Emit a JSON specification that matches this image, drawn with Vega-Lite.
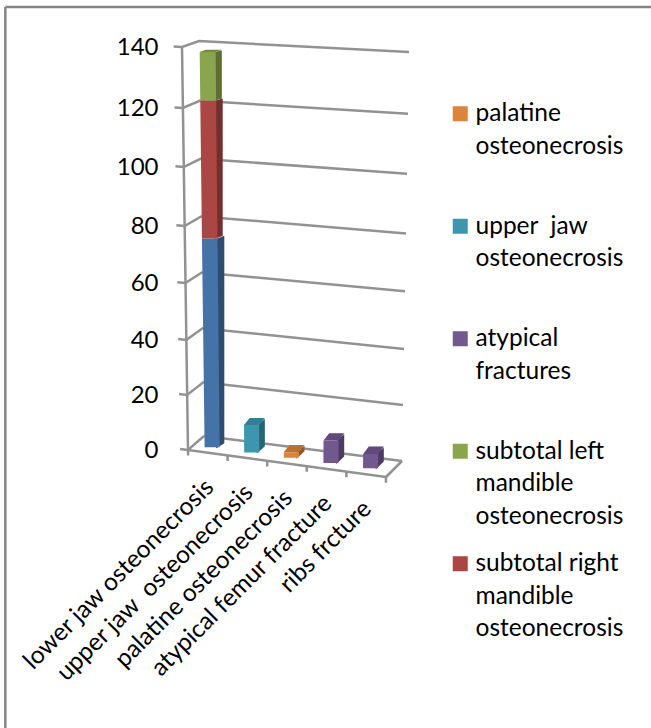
{
"$schema":"https://vega.github.io/schema/vega-lite/v6.json",
"width":651,"height":728,"padding":0,"autosize":"none","background":"white",
"view":{"stroke":null},
"config":{"font":"Lato","style":{"guide-label":{"lineHeight":32.5}}},
"datasets":{
"bars":[
{"category":"lower jaw osteonecrosis","idx":0,"series":"subtotal bilateral mandible osteonecrosis","start":0,"end":75},
{"category":"lower jaw osteonecrosis","idx":0,"series":"subtotal right mandible osteonecrosis","start":75,"end":122},
{"category":"lower jaw osteonecrosis","idx":0,"series":"subtotal left mandible osteonecrosis","start":122,"end":138},
{"category":"upper jaw\u00a0 osteonecrosis","idx":1,"series":"upper\u00a0 jaw osteonecrosis","start":0,"end":10},
{"category":"palatine osteonecrosis","idx":2,"series":"palatine osteonecrosis","start":0,"end":2},
{"category":"atypical femur fracture","idx":3,"series":"atypical fractures","start":0,"end":8},
{"category":"ribs frcture","idx":4,"series":"atypical fractures","start":0,"end":5}
],
"frame":[
{"id":"axis","u":0,"d":0,"v":0},{"id":"axis","u":0,"d":0,"v":140},
{"id":"front","u":0,"d":0,"v":0},{"id":"front","u":5,"d":0,"v":0},
{"id":"right","u":5,"d":0,"v":0},{"id":"right","u":5,"d":1,"v":0},
{"id":"x0","u":0,"d":0,"v":0},{"id":"x0","u":0,"d":0,"v":-2},
{"id":"x1","u":1,"d":0,"v":0},{"id":"x1","u":1,"d":0,"v":-2},
{"id":"x2","u":2,"d":0,"v":0},{"id":"x2","u":2,"d":0,"v":-2},
{"id":"x3","u":3,"d":0,"v":0},{"id":"x3","u":3,"d":0,"v":-2},
{"id":"x4","u":4,"d":0,"v":0},{"id":"x4","u":4,"d":0,"v":-2},
{"id":"x5","u":5,"d":0,"v":0},{"id":"x5","u":5,"d":0,"v":-2},
{"id":"g0","u":-0.2,"d":0,"v":0},{"id":"g0","u":0,"d":0,"v":0},{"id":"g0","u":0,"d":1,"v":0},
{"id":"g20","u":-0.2,"d":0,"v":20},{"id":"g20","u":0,"d":0,"v":20},{"id":"g20","u":0,"d":1,"v":20},{"id":"g20","u":5,"d":1,"v":20},
{"id":"g40","u":-0.2,"d":0,"v":40},{"id":"g40","u":0,"d":0,"v":40},{"id":"g40","u":0,"d":1,"v":40},{"id":"g40","u":5,"d":1,"v":40},
{"id":"g60","u":-0.2,"d":0,"v":60},{"id":"g60","u":0,"d":0,"v":60},{"id":"g60","u":0,"d":1,"v":60},{"id":"g60","u":5,"d":1,"v":60},
{"id":"g80","u":-0.2,"d":0,"v":80},{"id":"g80","u":0,"d":0,"v":80},{"id":"g80","u":0,"d":1,"v":80},{"id":"g80","u":5,"d":1,"v":80},
{"id":"g100","u":-0.2,"d":0,"v":100},{"id":"g100","u":0,"d":0,"v":100},{"id":"g100","u":0,"d":1,"v":100},{"id":"g100","u":5,"d":1,"v":100},
{"id":"g120","u":-0.2,"d":0,"v":120},{"id":"g120","u":0,"d":0,"v":120},{"id":"g120","u":0,"d":1,"v":120},{"id":"g120","u":5,"d":1,"v":120},
{"id":"g140","u":-0.2,"d":0,"v":140},{"id":"g140","u":0,"d":0,"v":140},{"id":"g140","u":0,"d":1,"v":140},{"id":"g140","u":5,"d":1,"v":140},
{"id":"back","u":0,"d":1,"v":0},{"id":"back","u":5,"d":1,"v":0}
]},
"encoding":{
"x":{"field":"px","type":"quantitative","title":null,"axis":null,"scale":{"domain":[-4.7,11.575],"range":[0,651],"nice":false,"zero":false}},
"y":{"field":"py","type":"quantitative","title":null,"scale":{"domain":[0,20,40,60,80,100,120,140],"range":[450,395,340,283,226,167,108,47],"nice":false,"zero":false},
"axis":{"values":[0,20,40,60,80,100,120,140],"orient":"left","offset":-158,"domain":false,"ticks":false,"grid":false,"labelPadding":0,"labelFontSize":24,"labelColor":"#000000","labelFont":"Lato"}}
},
"layer":[
{"data":{"values":[{"px":-4.567,"py":153.1},{"px":-4.567,"py":-105}]},"mark":{"type":"line","color":"#868686","strokeWidth":2.5}},
{"data":{"values":[{"px":-4.567,"py":153.1},{"px":11.7,"py":153.1}]},"mark":{"type":"line","color":"#868686","strokeWidth":2.5}},
{"data":{"name":"frame"},
"transform":[
{"calculate":"datum.v/140","as":"t"},
{"calculate":"(-6*datum.t+(39.6+2.4*datum.t)*datum.u+(16+datum.t)*datum.d)/40","as":"px"},
{"calculate":"datum.v-(datum.u*(5.4-0.4*datum.d-2.8*datum.t)-datum.d*(14-8*datum.t))/(2.75+0.3*datum.t)","as":"py"}],
"mark":{"type":"line","color":"#929292","strokeWidth":2.5,"interpolate":"linear"},
"encoding":{"detail":{"field":"id"}}},
{"data":{"name":"bars"},
"transform":[
{"calculate":"[0.37,0.72]","as":"D"},{"flatten":["D"]},
{"calculate":"datum.idx>0?0.37+(datum.D-0.37)*1.4:datum.D","as":"DY"},
{"calculate":"(datum.start+datum.end)/280","as":"tm"},
{"calculate":"datum.idx+0.65","as":"U"},
{"calculate":"(-6*datum.tm+(39.6+2.4*datum.tm)*(datum.U-(datum.D<0.5?0.06:0))+(16+datum.tm)*datum.D)/40","as":"px"},
{"calculate":"datum.start-(datum.U*(5.4-0.4*datum.DY-2.8*datum.start/140)-datum.DY*(14-8*datum.start/140))/(2.75+0.3*datum.start/140)","as":"py"},
{"calculate":"datum.end-(datum.U*(5.4-0.4*datum.DY-2.8*datum.end/140)-datum.DY*(14-8*datum.end/140))/(2.75+0.3*datum.end/140)","as":"py2"},
{"calculate":"datum.category+datum.series","as":"seg"}],
"mark":{"type":"area","orient":"vertical","opacity":1},
"encoding":{"x":{"field":"px","type":"quantitative","stack":null},"y2":{"field":"py2"},"detail":{"field":"seg"},
"color":{"field":"series","type":"nominal","title":null,
"scale":{"domain":["palatine osteonecrosis","upper\u00a0 jaw osteonecrosis","atypical fractures","subtotal left mandible osteonecrosis","subtotal right mandible osteonecrosis","subtotal bilateral mandible osteonecrosis"],"range":["#db843d","#3d96ae","#71588f","#89a54e","#aa4643","#4572a7"]},
"legend":{"orient":"none","legendX":448,"legendY":109,"values":["palatine osteonecrosis","upper\u00a0 jaw osteonecrosis","atypical fractures","subtotal left mandible osteonecrosis","subtotal right mandible osteonecrosis"],
"symbolType":"M-1,-2H1V0H-1Z","symbolSize":225,"symbolStrokeWidth":0,"symbolOpacity":1,"labelFontSize":24.5,"labelFont":"Lato","labelColor":"#000000","labelBaseline":"alphabetic","labelOffset":3,"labelLimit":0,"rowPadding":22.5,"padding":0,
"labelExpr":"{'palatine osteonecrosis':['palatine','osteonecrosis',' '],'upper\u00a0 jaw osteonecrosis':['upper\u00a0 jaw','osteonecrosis',' '],'atypical fractures':['atypical','fractures',' '],'subtotal left mandible osteonecrosis':['subtotal left','mandible','osteonecrosis'],'subtotal right mandible osteonecrosis':['subtotal right','mandible','osteonecrosis']}[datum.label]"}}}},
{"data":{"name":"bars"},
"transform":[
{"calculate":"[0.37,0.72]","as":"D"},{"flatten":["D"]},
{"calculate":"datum.idx>0?0.37+(datum.D-0.37)*1.4:datum.D","as":"DY"},
{"calculate":"(datum.start+datum.end)/280","as":"tm"},
{"calculate":"datum.idx+0.65","as":"U"},
{"calculate":"(-6*datum.tm+(39.6+2.4*datum.tm)*(datum.U-(datum.D<0.5?0.06:0))+(16+datum.tm)*datum.D)/40","as":"px"},
{"calculate":"datum.start-(datum.U*(5.4-0.4*datum.DY-2.8*datum.start/140)-datum.DY*(14-8*datum.start/140))/(2.75+0.3*datum.start/140)","as":"py"},
{"calculate":"datum.end-(datum.U*(5.4-0.4*datum.DY-2.8*datum.end/140)-datum.DY*(14-8*datum.end/140))/(2.75+0.3*datum.end/140)","as":"py2"},
{"calculate":"datum.category+datum.series","as":"seg"}],
"mark":{"type":"area","orient":"vertical","color":"#000000","opacity":0.33},
"encoding":{"x":{"field":"px","type":"quantitative","stack":null},"y2":{"field":"py2"},"detail":{"field":"seg"}}},
{"data":{"name":"bars"},
"transform":[
{"joinaggregate":[{"op":"max","field":"end","as":"maxEnd"}],"groupby":["category"]},
{"filter":"datum.end==datum.maxEnd"},
{"calculate":"[0.37,0.72]","as":"D"},{"flatten":["D"]},
{"calculate":"datum.idx>0?0.37+(datum.D-0.37)*1.4:datum.D","as":"DY"},
{"calculate":"datum.end/140","as":"t"},
{"calculate":"(-6*datum.t+(39.6+2.4*datum.t)*(datum.idx+0.27)+(16+datum.t)*datum.D)/40","as":"px"},
{"calculate":"(-6*datum.t+(39.6+2.4*datum.t)*(datum.idx+0.65)+(16+datum.t)*datum.D)/40","as":"px2"},
{"calculate":"datum.end-((datum.idx+0.46)*(5.4-0.4*datum.DY-2.8*datum.t)-datum.DY*(14-8*datum.t))/(2.75+0.3*datum.t)","as":"py"},
{"calculate":"datum.category+datum.series","as":"seg"}],
"mark":{"type":"area","orient":"horizontal"},
"encoding":{"x":{"field":"px","type":"quantitative","stack":null},"x2":{"field":"px2"},"detail":{"field":"seg"},"color":{"field":"series","type":"nominal","legend":null}}},
{"data":{"name":"bars"},
"transform":[
{"joinaggregate":[{"op":"max","field":"end","as":"maxEnd"}],"groupby":["category"]},
{"filter":"datum.end==datum.maxEnd"},
{"calculate":"[0.37,0.72]","as":"D"},{"flatten":["D"]},
{"calculate":"datum.idx>0?0.37+(datum.D-0.37)*1.4:datum.D","as":"DY"},
{"calculate":"datum.end/140","as":"t"},
{"calculate":"(-6*datum.t+(39.6+2.4*datum.t)*(datum.idx+0.27)+(16+datum.t)*datum.D)/40","as":"px"},
{"calculate":"(-6*datum.t+(39.6+2.4*datum.t)*(datum.idx+0.65)+(16+datum.t)*datum.D)/40","as":"px2"},
{"calculate":"datum.end-((datum.idx+0.46)*(5.4-0.4*datum.DY-2.8*datum.t)-datum.DY*(14-8*datum.t))/(2.75+0.3*datum.t)","as":"py"},
{"calculate":"datum.category+datum.series","as":"seg"}],
"mark":{"type":"area","orient":"horizontal","color":"#000000","opacity":0.15},
"encoding":{"x":{"field":"px","type":"quantitative","stack":null},"x2":{"field":"px2"},"detail":{"field":"seg"}}},
{"data":{"name":"bars"},
"transform":[
{"calculate":"[0,1]","as":"k"},{"flatten":["k"]},
{"calculate":"datum.k==0?datum.start:datum.end","as":"V"},
{"calculate":"datum.V/140","as":"t"},
{"calculate":"(-6*datum.t+(39.6+2.4*datum.t)*(datum.idx+0.27)+(16+datum.t)*0.37)/40","as":"px"},
{"calculate":"(-6*datum.t+(39.6+2.4*datum.t)*(datum.idx+0.65)+(16+datum.t)*0.37)/40","as":"px2"},
{"calculate":"datum.V-((datum.idx+0.46)*(5.4-0.148-2.8*datum.t)-0.37*(14-8*datum.t))/(2.75+0.3*datum.t)","as":"py"},
{"calculate":"datum.category+datum.series","as":"seg"}],
"mark":{"type":"area","orient":"horizontal"},
"encoding":{"x":{"field":"px","type":"quantitative","stack":null},"x2":{"field":"px2"},"detail":{"field":"seg"},"color":{"field":"series","type":"nominal","legend":null}}},
{"data":{"name":"bars"},
"transform":[
{"aggregate":[{"op":"max","field":"end","as":"total"}],"groupby":["category","idx"]},
{"calculate":"(39.4*(datum.idx+0.65))/40-0.09","as":"px"},
{"calculate":"-11-(datum.idx+0.65)*5.4/2.75","as":"py"}],
"mark":{"type":"text","angle":-45,"align":"right","baseline":"middle","fontSize":24.5,"font":"Lato","color":"#000000"},
"encoding":{"text":{"field":"category"}}}
]
}
